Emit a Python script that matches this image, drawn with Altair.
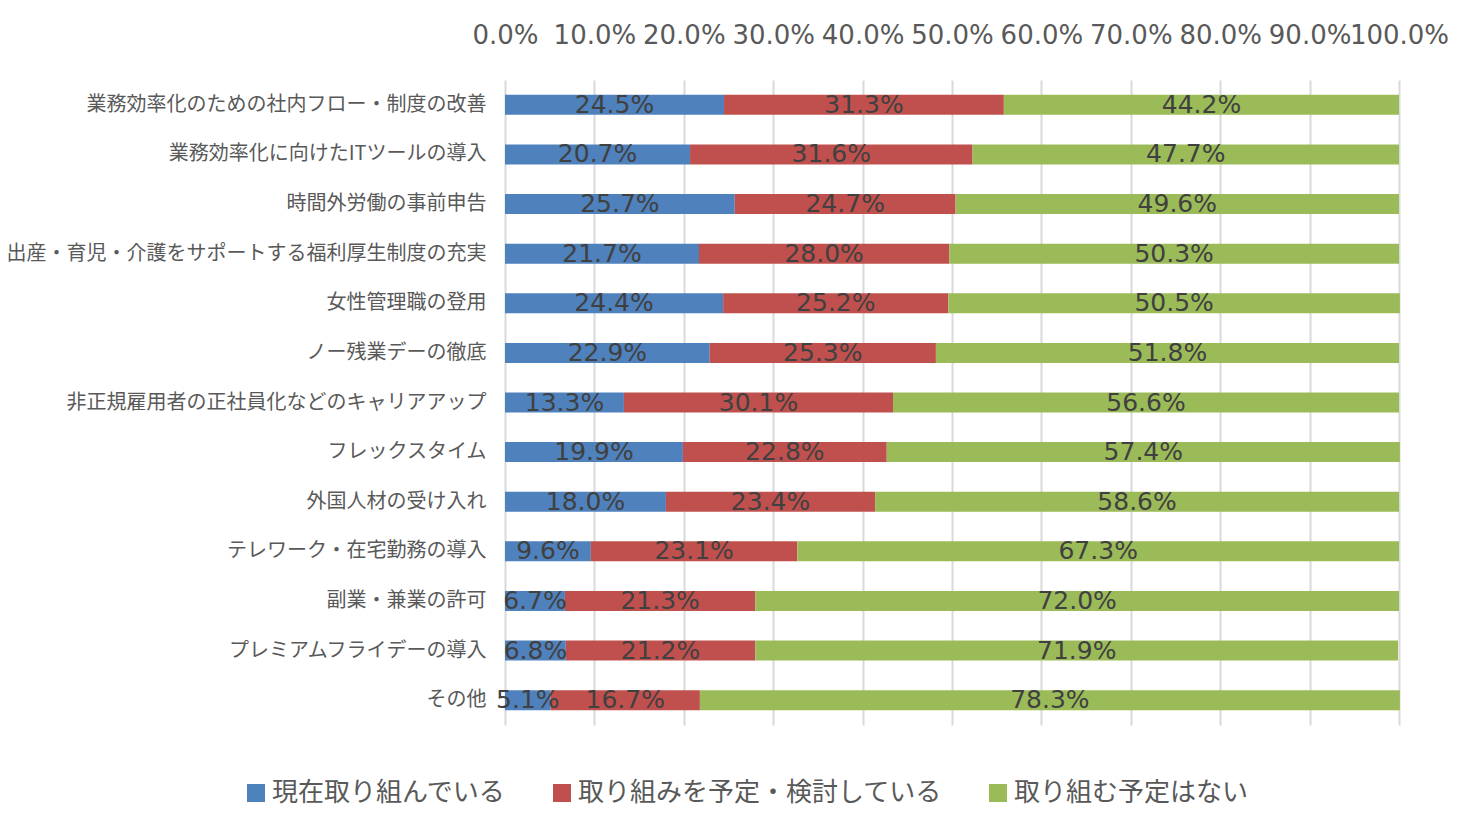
import altair as alt
import pandas as pd

categories = [
    "業務効率化のための社内フロー・制度の改善",
    "業務効率化に向けたITツールの導入",
    "時間外労働の事前申告",
    "出産・育児・介護をサポートする福利厚生制度の充実",
    "女性管理職の登用",
    "ノー残業デーの徹底",
    "非正規雇用者の正社員化などのキャリアアップ",
    "フレックスタイム",
    "外国人材の受け入れ",
    "テレワーク・在宅勤務の導入",
    "副業・兼業の許可",
    "プレミアムフライデーの導入",
    "その他",
]
series = ["現在取り組んでいる", "取り組みを予定・検討している", "取り組む予定はない"]
current = [24.5, 20.7, 25.7, 21.7, 24.4, 22.9, 13.3, 19.9, 18.0, 9.6, 6.7, 6.8, 5.1]
planned = [31.3, 31.6, 24.7, 28.0, 25.2, 25.3, 30.1, 22.8, 23.4, 23.1, 21.3, 21.2, 16.7]
none_ = [44.2, 47.7, 49.6, 50.3, 50.5, 51.8, 56.6, 57.4, 58.6, 67.3, 72.0, 71.9, 78.3]
colors = ["#4F81BD", "#C0504D", "#9BBB59"]
x_ticks = [0, 10, 20, 30, 40, 50, 60, 70, 80, 90, 100]

rows = []
for i, c in enumerate(categories):
    for j, (s, vals) in enumerate(zip(series, [current, planned, none_])):
        rows.append({"category": c, "series": s, "order": j, "value": vals[i]})
df = pd.DataFrame(rows)

JP = "Noto Sans CJK JP"
NUM = "DejaVu Sans"

base = alt.Chart(df).transform_stack(
    stack="value", groupby=["category"], as_=["x0", "x1"],
    sort=[alt.SortField("order", order="ascending")]
)

y_enc = alt.Y("category:N", sort=categories, title=None,
              axis=alt.Axis(domain=False, ticks=False, labelPadding=19,
                            labelFont=JP, labelFontSize=20, labelColor="#595959",
                            labelLimit=600))

bars = base.mark_bar(size=20).encode(
    x=alt.X("x0:Q", scale=alt.Scale(domain=[0, 100], nice=False), title=None,
            axis=alt.Axis(orient="top", values=x_ticks, domain=False, ticks=False,
                          labelExpr="format(datum.value, '.1f') + '%'",
                          labelFont=NUM, labelFontSize=26, labelColor="#595959",
                          labelPadding=32, grid=True, gridColor="#D9D9D9", gridWidth=2,
                          labelFlush=False, labelOverlap=False)),
    x2="x1:Q",
    y=y_enc,
    color=alt.Color("series:N", sort=series,
                    scale=alt.Scale(domain=series, range=colors),
                    legend=alt.Legend(title=None, orient="none", direction="horizontal",
                                      legendX=-262, legendY=700,
                                      symbolType="square", symbolSize=324,
                                      symbolStrokeWidth=0, symbolOpacity=1,
                                      labelFont=JP, labelFontSize=26, labelColor="#595959",
                                      columnPadding=42, labelOffset=3, labelLimit=500)),
)

labels = base.transform_calculate(
    mid="(datum.x0 + datum.x1) / 2",
    label="format(datum.value, '.1f') + '%'"
).mark_text(font=NUM, fontSize=25, color="#404040", baseline="middle", align="center").encode(
    x=alt.X("mid:Q", scale=alt.Scale(domain=[0, 100], nice=False)),
    y=alt.Y("category:N", sort=categories),
    text="label:N",
)

chart = alt.layer(bars, labels).properties(
    width=894, height=645,
    autosize=alt.AutoSizeParams(type="none"),
    padding={"left": 497, "top": 72, "right": 54, "bottom": 90},
).configure_view(stroke=None).configure_scale(bandPaddingInner=0.6)

chart.save("out.html", embed_options={"renderer": "svg", "actions": False})
